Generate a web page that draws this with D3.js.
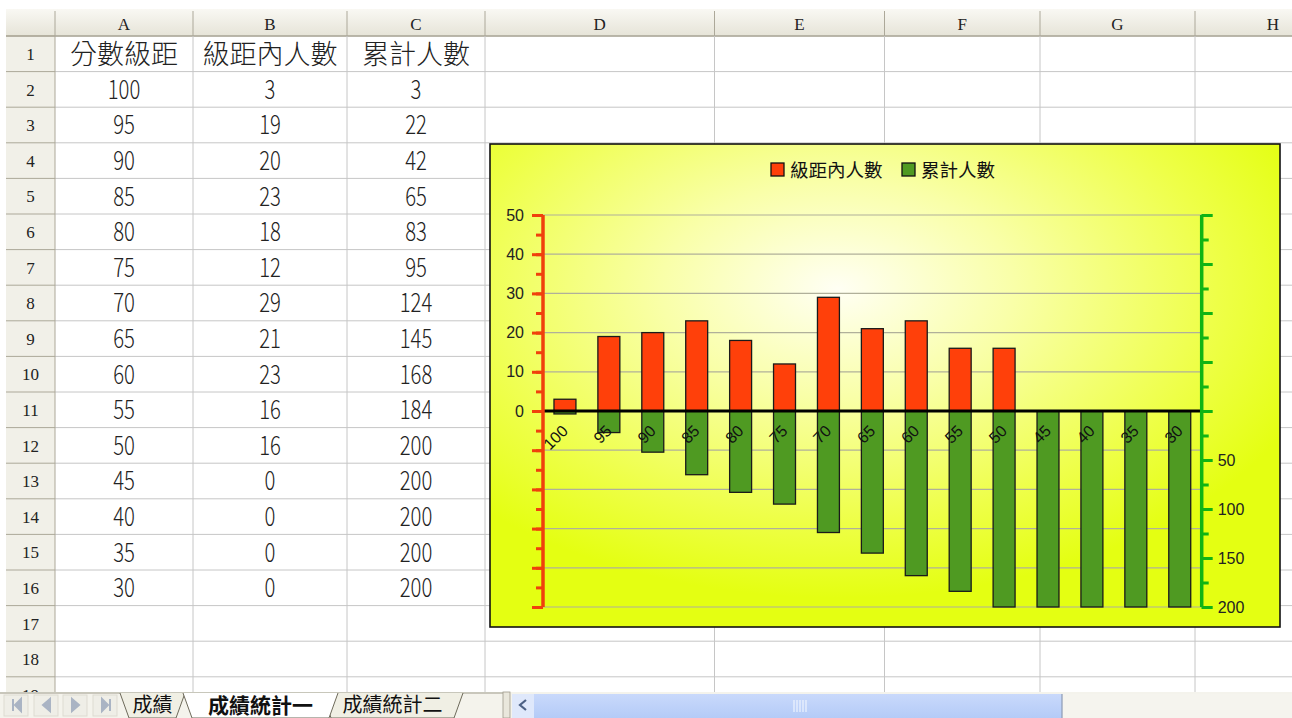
<!DOCTYPE html>
<html><head><meta charset="utf-8">
<script src="https://cdn.jsdelivr.net/npm/d3@7/dist/d3.min.js"></script>
<style>
html,body{margin:0;padding:0;background:#fff;overflow:hidden;}
svg{display:block;}
</style></head>
<body>
<svg id="c" width="1292" height="718"></svg>
<script>
// ---------- data ----------
const scoreBands = ["100","95","90","85","80","75","70","65","60","55","50","45","40","35","30"];
const bandCounts = [3,19,20,23,18,12,29,21,23,16,16,0,0,0,0];
const cumulativeCounts = [3,22,42,65,83,95,124,145,168,184,200,200,200,200,200];
const headerLabels = ["分數級距","級距內人數","累計人數"];
const seriesNames = ["級距內人數","累計人數"];
const leftTickValues = [0,10,20,30,40,50];
const rightTickValues = [50,100,150,200];
const columnLetters = ["A","B","C","D","E","F","G","H"];
const sheetTabs = ["成績","成績統計一","成績統計二"];

// ---------- layout ----------
const W = 1292, H = 718;
const colX = [6, 55, 193, 347, 485, 714.5, 884.5, 1040, 1195, 1351];
const headTop = 9, rowTop = 36, rowH = 35.6, nRows = 19;
const tabTop = 692;
const gridCol = "#c6c6c6";
const cellFont = "'Noto Sans CJK TC','Liberation Sans',sans-serif";
const cjkFont = "'Noto Sans CJK TC','Liberation Sans',sans-serif";

const svg = d3.select("#c");
const defs = svg.append("defs");

const hg = defs.append("linearGradient").attr("id","hdr").attr("x1",0).attr("y1",0).attr("x2",0).attr("y2",1);
hg.append("stop").attr("offset","0").attr("stop-color","#f9f8f3");
hg.append("stop").attr("offset","1").attr("stop-color","#e6e4d8");

const cg = defs.append("radialGradient").attr("id","cbg")
  .attr("cx",0.44).attr("cy",0.3).attr("r",0.64).attr("fx",0.44).attr("fy",0.3);
cg.append("stop").attr("offset","0").attr("stop-color","#fffff4");
cg.append("stop").attr("offset","0.35").attr("stop-color","#f9ffa8");
cg.append("stop").attr("offset","0.75").attr("stop-color","#eeff48");
cg.append("stop").attr("offset","1").attr("stop-color","#e4ff12");

const tg = defs.append("linearGradient").attr("id","thumb").attr("x1",0).attr("y1",0).attr("x2",0).attr("y2",1);
tg.append("stop").attr("offset","0").attr("stop-color","#c9d9fb");
tg.append("stop").attr("offset","1").attr("stop-color","#b4cbf7");

svg.append("rect").attr("width",W).attr("height",H).attr("fill","#fff");

// ---------- spreadsheet grid ----------
const grid = svg.append("g");
grid.append("rect").attr("x",colX[0]).attr("y",headTop).attr("width",W-colX[0]).attr("height",rowTop-headTop).attr("fill","url(#hdr)");
grid.append("rect").attr("x",colX[0]).attr("y",rowTop).attr("width",colX[1]-colX[0]).attr("height",tabTop-rowTop).attr("fill","#f1f0e8");
for (let i=0;i<=nRows;i++){
  const y = rowTop + i*rowH;
  grid.append("line").attr("x1",colX[1]).attr("x2",W).attr("y1",y).attr("y2",y).attr("stroke",gridCol).attr("stroke-width",1);
  grid.append("line").attr("x1",colX[0]).attr("x2",colX[1]).attr("y1",y).attr("y2",y).attr("stroke","#aca899").attr("stroke-width",1);
}
grid.append("line").attr("x1",colX[0]).attr("x2",W).attr("y1",rowTop).attr("y2",rowTop).attr("stroke","#aca899").attr("stroke-width",1.5);
colX.forEach((x,i)=>{
  if (i===0) return;
  grid.append("line").attr("x1",x).attr("x2",x).attr("y1",rowTop).attr("y2",tabTop).attr("stroke", i===1?"#aca899":gridCol).attr("stroke-width",1);
  grid.append("line").attr("x1",x).attr("x2",x).attr("y1",headTop+2).attr("y2",rowTop).attr("stroke","#aca899").attr("stroke-width",1);
});
columnLetters.forEach((L,i)=>{
  grid.append("text").attr("x",(colX[i+1]+colX[i+2])/2).attr("y",(headTop+rowTop)/2+1).attr("dy","0.36em")
    .attr("text-anchor","middle").attr("font-family","'Liberation Serif',serif").attr("font-size",17).attr("fill","#222").text(L);
});
for (let i=1;i<=nRows;i++){
  grid.append("text").attr("x",(colX[0]+colX[1])/2).attr("y",rowTop+(i-0.5)*rowH).attr("dy","0.36em")
    .attr("text-anchor","middle").attr("font-family","'Liberation Serif',serif").attr("font-size",17).attr("fill","#222").text(i);
}
headerLabels.forEach((t,i)=>{
  grid.append("text").attr("x",(colX[i+1]+colX[i+2])/2).attr("y",rowTop+0.5*rowH).attr("dy","0.36em")
    .attr("text-anchor","middle").attr("font-family",cjkFont).attr("font-weight",300).attr("font-size",27).attr("fill","#222").text(t);
});
const cols = [scoreBands, bandCounts, cumulativeCounts];
cols.forEach((arr,c)=>{
  arr.forEach((v,r)=>{
    const cx = (colX[c+1]+colX[c+2])/2, cy = rowTop+(r+1.5)*rowH;
    grid.append("text").attr("transform",`translate(${cx},${cy}) scale(0.78,1)`).attr("dy","0.36em")
      .attr("text-anchor","middle").attr("font-family",cellFont).attr("font-weight",300).attr("font-size",26)
      .attr("fill","#222").text(v);
  });
});

// ---------- chart ----------
const box = {x:490, y:144, w:790, h:483};
const ch = svg.append("g");
ch.append("rect").attr("x",box.x).attr("y",box.y).attr("width",box.w).attr("height",box.h)
  .attr("fill","url(#cbg)").attr("stroke","#111").attr("stroke-width",1.6);

const plotL = 543, plotR = 1201.7, plotT = 215, plotB = 607;
const x = d3.scaleBand().domain(scoreBands).range([plotL, plotR]).paddingInner(0.5).paddingOuter(0.25);
const yL = d3.scaleLinear().domain([-50,50]).range([plotB, plotT]);
const yR = d3.scaleLinear().domain([-200,200]).range([plotT, plotB]);

const chartFont = "'Liberation Sans','Noto Sans CJK TC',sans-serif";
const redFill = "#ff400a", greenFill = "#4f9a22";
const redAxis = "#f0400c", greenAxis = "#10b414";

ch.append("g").selectAll("line").data(d3.range(-50,51,10)).join("line")
  .attr("x1",plotL).attr("x2",plotR).attr("y1",d=>yL(d)).attr("y2",d=>yL(d))
  .attr("stroke","#b0b09a").attr("stroke-width",1.2);

ch.append("g").selectAll("rect").data(scoreBands).join("rect")
  .attr("x",d=>x(d)).attr("width",x.bandwidth())
  .attr("y",(d,i)=>yR(0)).attr("height",(d,i)=>yR(cumulativeCounts[i])-yR(0))
  .attr("fill",greenFill).attr("stroke","#1a1a1a").attr("stroke-width",1.3);
ch.append("g").selectAll("rect").data(scoreBands).join("rect")
  .attr("x",d=>x(d)).attr("width",x.bandwidth())
  .attr("y",(d,i)=>yL(bandCounts[i])).attr("height",(d,i)=>yL(0)-yL(bandCounts[i]))
  .attr("fill",redFill).attr("stroke","#1a1a1a").attr("stroke-width",1.3)
  .attr("display",(d,i)=>bandCounts[i]>0?null:"none");

ch.append("line").attr("x1",plotL).attr("x2",plotR).attr("y1",yL(0)).attr("y2",yL(0)).attr("stroke","#000").attr("stroke-width",3);

ch.append("g").selectAll("text").data(scoreBands).join("text")
  .attr("transform",d=>`translate(${x(d)+x.bandwidth()/2},${yL(0)+17}) rotate(-45)`)
  .attr("text-anchor","end").attr("dy","0.35em")
  .attr("font-family",chartFont).attr("font-size",16).attr("fill","#111").text(d=>d);

// left axis
const gL = ch.append("g").attr("transform",`translate(${plotL},0)`);
gL.call(d3.axisLeft(yL).tickValues(d3.range(-50,51,5)).tickSize(7).tickFormat(""));
gL.call(g=>g.selectAll(".tick line").attr("stroke",redAxis).attr("stroke-width",3));
gL.select(".domain").remove();
const gL2 = ch.append("g").attr("transform",`translate(${plotL},0)`);
gL2.call(d3.axisLeft(yL).tickValues(d3.range(-50,51,10)).tickSize(11).tickPadding(8)
  .tickFormat(d=>leftTickValues.includes(d)?d:""));
gL2.call(g=>{
  g.selectAll(".tick line").attr("stroke",redAxis).attr("stroke-width",3);
  g.select(".domain").attr("stroke",redAxis).attr("stroke-width",3.5).attr("d",`M0,${plotT}V${plotB}`);
  g.selectAll(".tick text").attr("font-family",chartFont).attr("font-size",16).attr("fill","#222");
});

// right axis
const gR = ch.append("g").attr("transform",`translate(${plotR},0)`);
gR.call(d3.axisRight(yR).tickValues(d3.range(-200,201,25)).tickSize(7).tickFormat(""));
gR.call(g=>g.selectAll(".tick line").attr("stroke",greenAxis).attr("stroke-width",3));
gR.select(".domain").remove();
const gR2 = ch.append("g").attr("transform",`translate(${plotR},0)`);
gR2.call(d3.axisRight(yR).tickValues(d3.range(-200,201,50)).tickSize(11).tickPadding(5)
  .tickFormat(d=>rightTickValues.includes(d)?d:""));
gR2.call(g=>{
  g.selectAll(".tick line").attr("stroke",greenAxis).attr("stroke-width",3);
  g.select(".domain").attr("stroke",greenAxis).attr("stroke-width",3.5).attr("d",`M0,${plotT}V${plotB}`);
  g.selectAll(".tick text").attr("font-family",chartFont).attr("font-size",16).attr("fill","#222");
});

// legend
const legend = ch.append("g");
const legX = [771, 902];
seriesNames.forEach((n,i)=>{
  legend.append("rect").attr("x",legX[i]).attr("y",163).attr("width",13).attr("height",13)
    .attr("fill",i===0?redFill:greenFill).attr("stroke","#111").attr("stroke-width",1.3);
  legend.append("text").attr("x",legX[i]+19).attr("y",170).attr("dy","0.36em")
    .attr("font-family",cjkFont).attr("font-size",18.5).attr("fill","#111").text(n);
});

// ---------- sheet tab bar ----------
const tb = svg.append("g");
tb.append("rect").attr("x",0).attr("y",tabTop).attr("width",W).attr("height",H-tabTop).attr("fill","#f4f3ec");
tb.append("line").attr("x1",0).attr("x2",505).attr("y1",tabTop+1).attr("y2",tabTop+1).attr("stroke","#9d9a8a").attr("stroke-width",1);
const navX = [8,38,67,97];
navX.forEach((bx,i)=>{
  const cx = bx+8, cy = tabTop+13;
  let p;
  if (i===0) p = `M${cx-3},${cy-6}V${cy+6} M${cx+5},${cy-6}L${cx-1},${cy}L${cx+5},${cy+6}Z`;
  if (i===1) p = `M${cx+4},${cy-6}L${cx-3},${cy}L${cx+4},${cy+6}Z`;
  if (i===2) p = `M${cx-3},${cy-6}L${cx+4},${cy}L${cx-3},${cy+6}Z`;
  if (i===3) p = `M${cx+5},${cy-6}V${cy+6} M${cx-3},${cy-6}L${cx+3},${cy}L${cx-3},${cy+6}Z`;
  tb.append("rect").attr("x",bx-4).attr("y",tabTop+3).attr("width",24).attr("height",21).attr("fill","#efeee7").attr("stroke","#dddbd1");
  tb.append("path").attr("d",p).attr("fill","#aab4c4").attr("stroke","#aab4c4").attr("stroke-width",2);
});
const tabDefs = [
  {x0:120,x1:185,active:false},
  {x0:183,x1:338,active:true},
  {x0:322,x1:463,active:false}
];
[0,2,1].forEach(i=>{
  const t = tabDefs[i];
  tb.append("path").attr("d",`M${t.x0},${tabTop+1}L${t.x0+9},${H}L${t.x1-9},${H}L${t.x1},${tabTop+1}`)
    .attr("fill",t.active?"#ffffff":"#f0efe4").attr("stroke","#6d6a5a").attr("stroke-width",1);
  tb.append("text").attr("x",(t.x0+t.x1)/2).attr("y",tabTop+13).attr("dy","0.36em")
    .attr("text-anchor","middle").attr("font-family",cjkFont).attr("font-weight",t.active?700:400)
    .attr("font-size",t.active?21:20).attr("fill","#111").text(sheetTabs[i]);
});
tb.append("rect").attr("x",503).attr("y",tabTop).attr("width",7).attr("height",H-tabTop).attr("fill","#e9e7dc").attr("stroke","#9d9a8a").attr("stroke-width",0.8);
tb.append("rect").attr("x",512).attr("y",tabTop+2).attr("width",550).attr("height",H-tabTop-2).attr("fill","url(#thumb)");
tb.append("rect").attr("x",512).attr("y",tabTop+2).attr("width",22).attr("height",H-tabTop-2).attr("fill","#dfe8fb");
tb.append("path").attr("d",`M${526},${tabTop+8}L${520},${tabTop+13}L${526},${tabTop+18}`).attr("fill","none").attr("stroke","#4d6185").attr("stroke-width",2.2);
[794,797,800,803,806].forEach(gx=>tb.append("line").attr("x1",gx).attr("x2",gx).attr("y1",tabTop+8).attr("y2",tabTop+20).attr("stroke","#eef3fe").attr("stroke-width",1.2));
tb.append("line").attr("x1",1062).attr("x2",1062).attr("y1",tabTop+2).attr("y2",H).attr("stroke","#8d9bb5").attr("stroke-width",1.2);
tb.append("rect").attr("x",1063).attr("y",tabTop+2).attr("width",W-1063).attr("height",H-tabTop-2).attr("fill","#f5f4ee");
</script>
</body></html>
